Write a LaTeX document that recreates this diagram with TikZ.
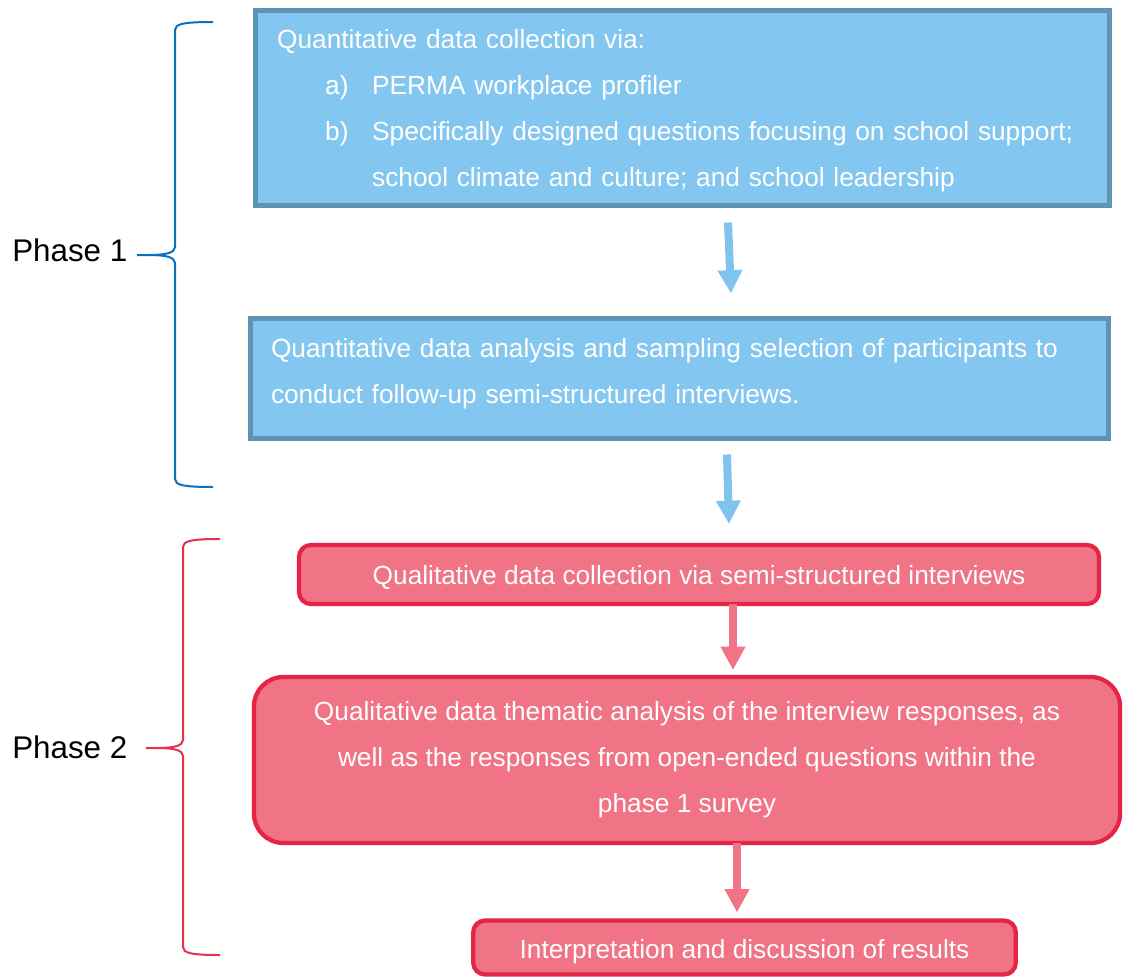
\documentclass[tikz,border=0pt]{standalone}
\usepackage{fontspec}
\setmainfont{Liberation Sans}
\usetikzlibrary{arrows.meta,calc}

\definecolor{qnfill}{HTML}{83C7F0}
\definecolor{qnline}{HTML}{5F93B6}
\definecolor{qnarrow}{HTML}{7EC4EE}
\definecolor{qlfill}{HTML}{F07485}
\definecolor{qlline}{HTML}{E62546}
\definecolor{bracebl}{HTML}{0A70C0}
\definecolor{bracerd}{HTML}{E5314F}

% indented list label inside the first box
\newcommand{\sublabel}[1]{\makebox[71.25pt][l]{\hspace{36pt}#1}}

\begin{document}
\begin{tikzpicture}[
	x=0.75pt,y=-0.75pt,
	qnbox/.style={draw=qnline,fill=qnfill,line width=3.6pt,text=white,align=left,
		inner sep=0pt,outer sep=0pt,font=\fontsize{19.7}{34.5}\selectfont},
	qlbox/.style={draw=qlline,fill=qlfill,line width=3.2pt,rounded corners=9pt,text=white,
		align=center,inner sep=0pt,outer sep=0pt,font=\fontsize{19.7}{34.5}\selectfont},
	barrow/.style={draw=qnarrow,line width=6pt,-{Triangle[width=17.5pt,length=17.5pt]}},
	rarrow/.style={draw=qlfill,line width=6pt,-{Triangle[width=17.5pt,length=17.5pt]}},
	phase/.style={anchor=west,inner sep=0pt,font=\fontsize{23.5}{27}\selectfont},
	brace/.style={line width=1.5pt}
	]
	\path[use as bounding box] (0,0) rectangle (1124,978);

	% phase 1: quantitative part
	\node[qnbox,minimum width=640.5pt,minimum height=146.3pt,text width=608pt] (collect) at (682.5,108) {%
		\rule{0pt}{18pt}Quantitative data collection via:\\
		\sublabel{a)}PERMA workplace profiler\\
		\sublabel{b)}Specifically designed questions focusing on school support;\\
		\sublabel{}school climate and culture; and school leadership};
	\node[qnbox,minimum width=643.5pt,minimum height=90pt,text width=612.75pt] (analyse) at (679.5,378.5) {%
		Quantitative data analysis and sampling selection of participants to\\
		conduct follow-up semi-structured interviews.\rule[-11pt]{0pt}{1pt}};

	% phase 2: qualitative part
	\node[qlbox,minimum width=600pt,minimum height=44.25pt] (interview) at (699,574.5)
		{\rule{0pt}{18.9pt}Qualitative data collection via semi-structured interviews};
	\node[qlbox,rounded corners=22pt,minimum width=649.5pt,minimum height=124.5pt] (thematic) at (687,760) {%
		Qualitative data thematic analysis of the interview responses, as\\
		well as the responses from open-ended questions within the\\
		phase 1 survey};
	\node[qlbox,minimum width=407pt,minimum height=40.5pt] (results) at (744.5,947.5)
		{\rule{0pt}{20.4pt}Interpretation and discussion of results};

	\draw[barrow] ($(collect.south)+(45.5,17)$) -- ($(analyse.north)+(51.5,-25)$);
	\draw[barrow] ($(analyse.south)+(47.5,16)$) -- ($(interview.north)+(30,-21)$);
	\draw[rarrow] ($(interview.south)+(34,0)$) -- ($(thematic.north)+(46,-7)$);
	\draw[rarrow] ($(thematic.south)+(50,0)$) -- ($(results.north)+(-7.5,-8)$);

	% phase labels and their braces
	\node[phase] (ph1) at (12,250) {Phase 1};
	\node[phase] (ph2) at (12,747) {Phase 2};
	\foreach \c/\xv/\ya/\ym/\yb/\xe/\xt in {bracebl/175/22/255/487/213/137,bracerd/183/539/748/955/220/146}{
		\draw[brace,draw=\c] (\xe,\ya) .. controls (\xv+8,\ya) and (\xv,\ya+2) .. (\xv,\ya+8)
			-- (\xv,\ym-8) .. controls (\xv,\ym-2) and (\xv-10,\ym) .. (\xt+12,\ym) -- (\xt,\ym)
			-- (\xt+12,\ym) .. controls (\xv-10,\ym) and (\xv,\ym+2) .. (\xv,\ym+8)
			-- (\xv,\yb-8) .. controls (\xv,\yb-2) and (\xv+8,\yb) .. (\xe,\yb);
	}
\end{tikzpicture}
\end{document}
